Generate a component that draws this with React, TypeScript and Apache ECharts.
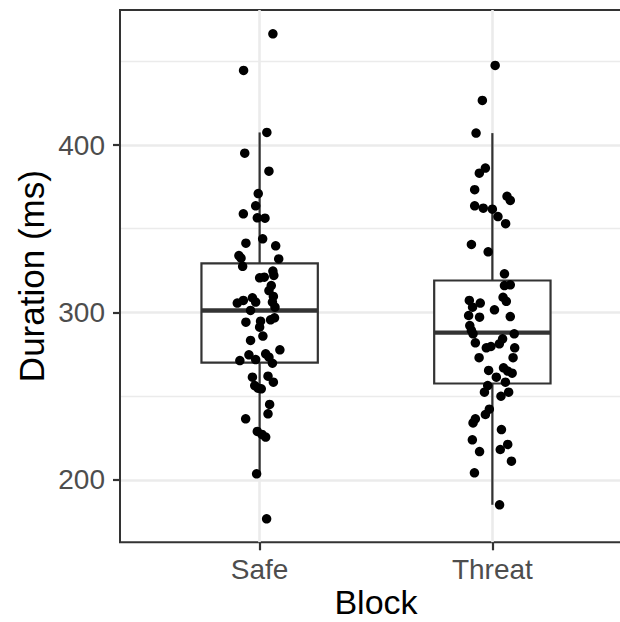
import React, { useEffect, useRef } from "react";
import * as echarts from "echarts";

const categories = ["Safe", "Threat"];
const yMajorTicks = [200, 300, 400];
const yMinorTicks = [250, 350, 450];
const yRange = [162.8, 480.6];
const xRange = [0.4, 2.6];

// Box stats: [low whisker, Q1, median, Q3, high whisker]
const safeBox = [203.7, 270.1, 301.2, 329.3, 407.5];
const threatBox = [185.2, 257.6, 288.0, 319.1, 407.1];

// Jittered points: [horizontal offset from the category centre, duration in ms]
const safePoints: [number, number][] = [
  [0.057, 466.4], [-0.069, 444.5], [0.031, 407.5], [-0.064, 395.1], [0.04, 384.4],
  [-0.006, 371.0], [-0.017, 363.7], [-0.07, 358.9], [-0.01, 356.5], [0.023, 356.3],
  [0.013, 344.0], [-0.059, 341.4], [0.069, 339.8], [-0.089, 334.0], [-0.08, 332.4],
  [0.082, 332.0], [-0.073, 327.6], [0.057, 324.7], [0.061, 322.1], [0.0, 320.7],
  [0.02, 321.1], [0.05, 316.1], [0.04, 313.1], [0.059, 309.6], [-0.096, 305.6],
  [-0.07, 307.2], [-0.031, 308.8], [-0.017, 306.2], [0.055, 306.2], [0.066, 303.2],
  [-0.039, 301.2], [0.064, 296.8], [0.047, 295.6], [-0.059, 294.2], [0.004, 294.8],
  [0.0, 291.2], [0.014, 285.9], [-0.039, 283.3], [0.087, 277.7], [-0.046, 274.7],
  [0.026, 275.3], [0.04, 273.3], [-0.085, 271.3], [-0.017, 271.9], [0.055, 269.7],
  [-0.031, 261.4], [0.036, 262.0], [0.059, 258.4], [-0.021, 256.4], [-0.007, 254.8],
  [0.007, 254.4], [0.043, 245.1], [0.036, 239.5], [-0.06, 236.5], [-0.01, 229.0],
  [0.01, 227.2], [0.026, 225.6], [-0.013, 203.7], [0.03, 176.8],
];

const threatPoints: [number, number][] = [
  [0.012, 447.5], [-0.043, 426.6], [-0.07, 407.1], [-0.03, 386.2], [-0.056, 383.2],
  [-0.076, 373.3], [0.063, 369.4], [0.077, 366.9], [-0.076, 363.7], [-0.039, 362.3],
  [0.0, 361.7], [0.024, 357.3], [0.057, 353.0], [-0.09, 340.6], [-0.018, 336.2],
  [0.052, 323.1], [0.052, 316.1], [0.077, 316.5], [-0.099, 307.2], [-0.052, 305.6],
  [0.046, 309.1], [0.06, 306.7], [-0.085, 303.2], [0.009, 301.6], [-0.102, 298.2],
  [-0.055, 297.2], [0.077, 297.6], [-0.097, 292.2], [-0.09, 289.3], [-0.083, 287.3],
  [0.094, 287.3], [-0.073, 281.9], [0.044, 284.3], [0.03, 281.3], [-0.026, 278.9],
  [-0.006, 279.7], [0.096, 278.9], [-0.057, 273.0], [0.089, 273.0], [-0.016, 265.4],
  [0.048, 267.0], [0.066, 265.0], [0.085, 263.8], [0.017, 261.4], [0.056, 258.4],
  [-0.02, 256.4], [-0.034, 252.4], [0.07, 252.4], [0.037, 250.0], [-0.013, 242.3],
  [-0.03, 239.1], [-0.073, 236.5], [-0.083, 234.1], [0.039, 230.1], [-0.086, 224.0],
  [0.034, 218.2], [0.066, 221.2], [-0.055, 217.0], [0.082, 211.2], [-0.077, 204.3],
  [0.031, 185.2],
];

const W = 620;
const H = 622;
const PL = 120;
const PR = -12;
const PT = 10;
const PB = 79.7;
const FONT = "'Liberation Sans', Arial, Helvetica, sans-serif";

export default function App() {
  const ref = useRef<HTMLDivElement>(null);

  useEffect(() => {
    if (!ref.current) return;
    const chart = echarts.init(ref.current, null, { renderer: "svg" });

    const plotW = W - PL - PR;
    const plotH = H - PT - PB;
    const xPx = (u: number) => PL + ((u - xRange[0]) / (xRange[1] - xRange[0])) * plotW;
    const yPx = (v: number) => PT + ((yRange[1] - v) / (yRange[1] - yRange[0])) * plotH;

    const majMin = Math.min(...yMajorTicks);
    const majMax = Math.max(...yMajorTicks);
    const minMin = Math.min(...yMinorTicks);
    const minMax = Math.max(...yMinorTicks);

    const boxData = [
      [1, ...safeBox],
      [2, ...threatBox],
    ];
    const stroke = "#333333";
    const lw = 2.2;
    const gridBase = { containLabel: false, outerBoundsMode: "none" };

    const option: any = {
      animation: false,
      backgroundColor: "#ffffff",
      textStyle: { fontFamily: FONT },
      grid: [
        {
          ...gridBase,
          left: PL, right: PR, top: PT, bottom: PB,
          show: true, borderColor: stroke, borderWidth: 2, backgroundColor: "transparent",
        },
        { ...gridBase, left: xPx(1), right: W - xPx(2), top: PT, bottom: PB },
        { ...gridBase, left: PL + 1, right: PR, top: yPx(majMax), bottom: H - yPx(majMin) },
        { ...gridBase, left: PL + 1, right: PR, top: yPx(minMax), bottom: H - yPx(minMin) },
      ],
      xAxis: [
        { type: "value", gridIndex: 0, min: xRange[0], max: xRange[1], show: false },
        {
          type: "category", gridIndex: 1, data: categories, boundaryGap: false,
          axisLine: { show: false },
          axisTick: { show: true, length: 8, lineStyle: { color: stroke, width: lw } },
          axisLabel: { color: "#4d4d4d", fontSize: 28, margin: 13, fontFamily: FONT },
          splitLine: { show: true, lineStyle: { color: "#ebebeb", width: 2.6 } },
          name: "Block", nameLocation: "middle", nameGap: 43, nameMoveOverlap: false,
          nameTextStyle: { color: "#000000", fontSize: 34, lineHeight: 33, fontFamily: FONT },
        },
        { type: "value", gridIndex: 2, show: false, min: 0, max: 1 },
        { type: "value", gridIndex: 3, show: false, min: 0, max: 1 },
      ],
      yAxis: [
        {
          type: "value", gridIndex: 0, min: yRange[0], max: yRange[1],
          axisLine: { show: false }, axisTick: { show: false }, axisLabel: { show: false },
          splitLine: { show: false },
          name: "Duration (ms)", nameLocation: "middle", nameGap: 71, nameMoveOverlap: false,
          nameTextStyle: { color: "#000000", fontSize: 35, fontFamily: FONT },
        },
        { type: "value", gridIndex: 1, show: false, min: 0, max: 1 },
        {
          type: "value", gridIndex: 2, min: majMin, max: majMax, interval: 100,
          axisLine: { show: false },
          axisTick: { show: true, length: 8, lineStyle: { color: stroke, width: lw } },
          axisLabel: { color: "#4d4d4d", fontSize: 28, margin: 16, fontFamily: FONT },
          splitLine: { show: true, lineStyle: { color: "#ebebeb", width: 2.6 } },
        },
        {
          type: "value", gridIndex: 3, min: minMin, max: minMax, interval: 100,
          axisLine: { show: false }, axisTick: { show: false }, axisLabel: { show: false },
          splitLine: { show: true, lineStyle: { color: "#ebebeb", width: 1.4 } },
        },
      ],
      series: [
        {
          type: "custom",
          xAxisIndex: 0, yAxisIndex: 0, z: 2,
          data: boxData,
          encode: { x: 0, y: [1, 2, 3, 4, 5] },
          renderItem: (_p: any, api: any) => {
            const c = api.value(0);
            const lo = api.value(1), q1 = api.value(2), med = api.value(3), q3 = api.value(4), hi = api.value(5);
            const hw = 0.25;
            const pLo = api.coord([c, lo]);
            const pQ1 = api.coord([c, q1]);
            const pQ3 = api.coord([c, q3]);
            const pHi = api.coord([c, hi]);
            const left = api.coord([c - hw, med])[0];
            const right = api.coord([c + hw, med])[0];
            const yMed = api.coord([c, med])[1];
            return {
              type: "group",
              children: [
                { type: "line", shape: { x1: pHi[0], y1: pHi[1], x2: pQ3[0], y2: pQ3[1] }, style: { stroke, lineWidth: lw } },
                { type: "line", shape: { x1: pQ1[0], y1: pQ1[1], x2: pLo[0], y2: pLo[1] }, style: { stroke, lineWidth: lw } },
                {
                  type: "rect",
                  shape: { x: left, y: pQ3[1], width: right - left, height: pQ1[1] - pQ3[1] },
                  style: { fill: "#ffffff", stroke, lineWidth: lw },
                },
                { type: "line", shape: { x1: left, y1: yMed, x2: right, y2: yMed }, style: { stroke, lineWidth: 4.4 } },
              ],
            };
          },
        },
        {
          type: "scatter", xAxisIndex: 0, yAxisIndex: 0, z: 3,
          symbol: "circle", symbolSize: 9.5,
          itemStyle: { color: "#000000", opacity: 1 },
          data: safePoints.map(([dx, v]) => [1 + dx, v]),
        },
        {
          type: "scatter", xAxisIndex: 0, yAxisIndex: 0, z: 3,
          symbol: "circle", symbolSize: 9.5,
          itemStyle: { color: "#000000", opacity: 1 },
          data: threatPoints.map(([dx, v]) => [2 + dx, v]),
        },
      ],
    };

    chart.setOption(option);
    return () => chart.dispose();
  }, []);

  return (
    <div
      ref={ref}
      style={{ position: "fixed", left: 0, top: 0, width: W, height: H, background: "#fff" }}
    />
  );
}
